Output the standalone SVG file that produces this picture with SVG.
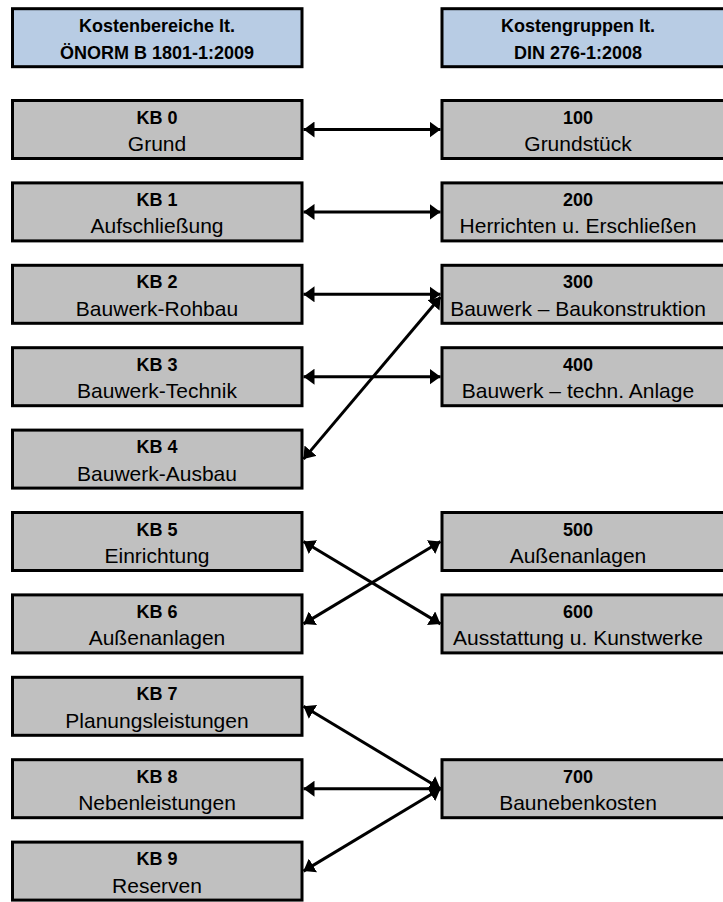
<svg xmlns="http://www.w3.org/2000/svg" width="723" height="902" viewBox="0 0 723 902">
  <style>
    .hdr { fill: #b8cce4; stroke: #000; stroke-width: 3; }
    .box { fill: #c0c0c0; stroke: #000; stroke-width: 3; }
    text { font-family: "Liberation Sans", Arial, sans-serif; text-anchor: middle; fill: #000; }
    .b { font-weight: bold; font-size: 18px; }
    .r { font-size: 21px; }
    .hb { font-weight: bold; font-size: 18px; }
    .link { stroke: #000; stroke-width: 3; fill: none; marker-start: url(#head); marker-end: url(#head); }
  </style>
  <defs>
    <marker id="head" viewBox="0 0 11 16" refX="11" refY="8" markerWidth="11" markerHeight="16" markerUnits="userSpaceOnUse" orient="auto-start-reverse">
      <path d="M0,0 L11,8 L0,16 Z" fill="#000"/>
    </marker>
  </defs>

  <!-- column headings -->
  <g id="hdr-oenorm">
    <rect class="hdr" x="12.5" y="8.7" width="289.5" height="58"/>
    <text class="hb" x="157" y="32">Kostenbereiche lt.</text>
    <text class="hb" x="157" y="58.5">ÖNORM B 1801-1:2009</text>
  </g>
  <g id="hdr-din">
    <rect class="hdr" x="442" y="8.7" width="300" height="58"/>
    <text class="hb" x="578" y="32">Kostengruppen lt.</text>
    <text class="hb" x="578" y="58.5">DIN 276-1:2008</text>
  </g>

  <!-- ÖNORM cost areas -->
  <g id="kb0">
    <rect class="box" x="12.5" y="100.5" width="289.5" height="58"/>
    <text class="b" x="157" y="123.5">KB 0</text>
    <text class="r" x="157" y="151">Grund</text>
  </g>
  <g id="kb1">
    <rect class="box" x="12.5" y="182.9" width="289.5" height="58"/>
    <text class="b" x="157" y="205.9">KB 1</text>
    <text class="r" x="157" y="233.4">Aufschließung</text>
  </g>
  <g id="kb2">
    <rect class="box" x="12.5" y="265.3" width="289.5" height="58"/>
    <text class="b" x="157" y="288.3">KB 2</text>
    <text class="r" x="157" y="315.8">Bauwerk-Rohbau</text>
  </g>
  <g id="kb3">
    <rect class="box" x="12.5" y="347.7" width="289.5" height="58"/>
    <text class="b" x="157" y="370.7">KB 3</text>
    <text class="r" x="157" y="398.2">Bauwerk-Technik</text>
  </g>
  <g id="kb4">
    <rect class="box" x="12.5" y="430.1" width="289.5" height="58"/>
    <text class="b" x="157" y="453.1">KB 4</text>
    <text class="r" x="157" y="480.6">Bauwerk-Ausbau</text>
  </g>
  <g id="kb5">
    <rect class="box" x="12.5" y="512.5" width="289.5" height="58"/>
    <text class="b" x="157" y="535.5">KB 5</text>
    <text class="r" x="157" y="563">Einrichtung</text>
  </g>
  <g id="kb6">
    <rect class="box" x="12.5" y="594.9" width="289.5" height="58"/>
    <text class="b" x="157" y="617.9">KB 6</text>
    <text class="r" x="157" y="645.4">Außenanlagen</text>
  </g>
  <g id="kb7">
    <rect class="box" x="12.5" y="677.3" width="289.5" height="58"/>
    <text class="b" x="157" y="700.3">KB 7</text>
    <text class="r" x="157" y="727.8">Planungsleistungen</text>
  </g>
  <g id="kb8">
    <rect class="box" x="12.5" y="759.7" width="289.5" height="58"/>
    <text class="b" x="157" y="782.7">KB 8</text>
    <text class="r" x="157" y="810.2">Nebenleistungen</text>
  </g>
  <g id="kb9">
    <rect class="box" x="12.5" y="842.1" width="289.5" height="58"/>
    <text class="b" x="157" y="865.1">KB 9</text>
    <text class="r" x="157" y="892.6">Reserven</text>
  </g>

  <!-- DIN cost groups -->
  <g id="kg100">
    <rect class="box" x="442" y="100.5" width="300" height="58"/>
    <text class="b" x="578" y="123.5">100</text>
    <text class="r" x="578" y="151">Grundstück</text>
  </g>
  <g id="kg200">
    <rect class="box" x="442" y="182.9" width="300" height="58"/>
    <text class="b" x="578" y="205.9">200</text>
    <text class="r" x="578" y="233.4">Herrichten u. Erschließen</text>
  </g>
  <g id="kg300">
    <rect class="box" x="442" y="265.3" width="300" height="58"/>
    <text class="b" x="578" y="288.3">300</text>
    <text class="r" x="578" y="315.8">Bauwerk – Baukonstruktion</text>
  </g>
  <g id="kg400">
    <rect class="box" x="442" y="347.7" width="300" height="58"/>
    <text class="b" x="578" y="370.7">400</text>
    <text class="r" x="578" y="398.2">Bauwerk – techn. Anlage</text>
  </g>
  <g id="kg500">
    <rect class="box" x="442" y="512.5" width="300" height="58"/>
    <text class="b" x="578" y="535.5">500</text>
    <text class="r" x="578" y="563">Außenanlagen</text>
  </g>
  <g id="kg600">
    <rect class="box" x="442" y="594.9" width="300" height="58"/>
    <text class="b" x="578" y="617.9">600</text>
    <text class="r" x="578" y="645.4">Ausstattung u. Kunstwerke</text>
  </g>
  <g id="kg700">
    <rect class="box" x="442" y="759.7" width="300" height="58"/>
    <text class="b" x="578" y="782.7">700</text>
    <text class="r" x="578" y="810.2">Baunebenkosten</text>
  </g>

  <!-- mappings -->
  <g id="connectors">
    <line class="link" x1="303.5" y1="129.5" x2="440.5" y2="129.5"/>
    <line class="link" x1="303.5" y1="211.9" x2="440.5" y2="211.9"/>
    <line class="link" x1="303.5" y1="294.3" x2="440.5" y2="294.3"/>
    <line class="link" x1="303.5" y1="376.7" x2="440.5" y2="376.7"/>
    <line class="link" x1="303.5" y1="459.1" x2="440.5" y2="297"/>
    <line class="link" x1="303.5" y1="541.5" x2="440.5" y2="623.9"/>
    <line class="link" x1="303.5" y1="623.9" x2="440.5" y2="541.5"/>
    <line class="link" x1="303.5" y1="706.3" x2="440.5" y2="788.7"/>
    <line class="link" x1="303.5" y1="788.7" x2="440.5" y2="788.7"/>
    <line class="link" x1="303.5" y1="871.1" x2="440.5" y2="788.7"/>
  </g>
</svg>
